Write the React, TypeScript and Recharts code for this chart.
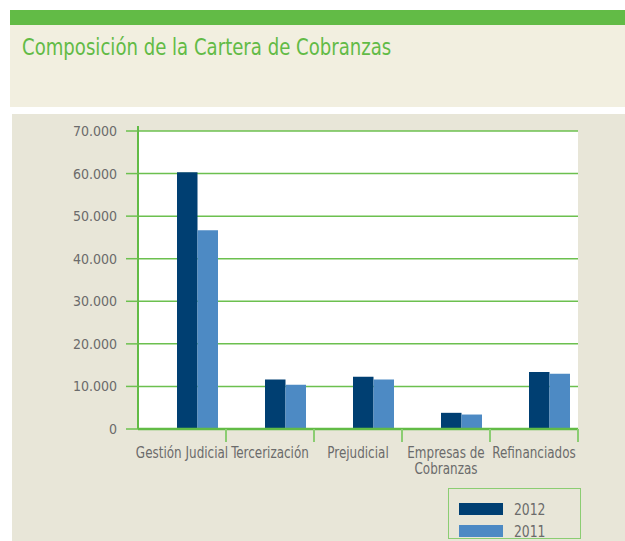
import React from 'react'
import {
  BarChart,
  Bar,
  XAxis,
  YAxis,
  CartesianGrid,
  Legend,
  ReferenceLine,
} from 'recharts'

const categories = ['Gestión Judicial', 'Tercerización', 'Prejudicial', 'Empresas de Cobranzas', 'Refinanciados']
const values2012 = [60300, 11600, 12300, 3800, 13400]
const values2011 = [46700, 10400, 11600, 3400, 13000]
const seriesNames = ['2012', '2011']
const yTicks = [0, 10000, 20000, 30000, 40000, 50000, 60000, 70000]

const data = categories.map((name, i) => ({
  name,
  y2012: values2012[i],
  y2011: values2011[i],
}))

const GREEN = '#62bb46'
const GRID = '#6cc04f'
const LIGHT_GREEN = '#8bcd72'
const DARK = '#003f72'
const LIGHT = '#4d8ac4'
const TEXT = '#6b6b6b'
const FONT = "'DejaVu Sans Condensed', 'Open Sans', sans-serif"

const PLOT_W = 440

const fmt = (v: number) => (v === 0 ? '0' : v.toLocaleString('de-DE'))

function CategoryTick(props: any) {
  const { x, y, payload } = props
  const label: string = payload.value
  const half = PLOT_W / categories.length / 2
  let lines = [label]
  if (label.length > 18) {
    const cut = label.lastIndexOf(' ')
    lines = [label.slice(0, cut), label.slice(cut + 1)]
  }
  return (
    <g>
      {/* tick mark on the band's right edge */}
      <line x1={x + half} x2={x + half} y1={y} y2={y + 13} stroke={LIGHT_GREEN} strokeWidth={2} />
      <g transform={`translate(${x},${y}) scale(0.86,1)`}>
        <text x={0} y={0} textAnchor="middle" fill={TEXT} fontSize={15.5} fontFamily={FONT}>
          {lines.map((l, i) => (
            <tspan key={i} x={0} dy={i === 0 ? 29 : 16}>
              {l}
            </tspan>
          ))}
        </text>
      </g>
    </g>
  )
}

function LegendBox(props: any) {
  const items = seriesNames
    .map((n) => (props.payload || []).find((p: any) => p.value === n))
    .filter(Boolean)
  return (
    <div
      style={{
        border: `1.5px solid ${LIGHT_GREEN}`,
        boxSizing: 'border-box',
        width: 133,
        height: 51,
        padding: '9px 0 0 10px',
      }}
    >
      {items.map((p: any) => (
        <div key={p.value} style={{ display: 'flex', alignItems: 'center', height: 22 }}>
          <span style={{ width: 44, height: 12, background: p.color, display: 'inline-block' }} />
          <span style={{ marginLeft: 11, color: TEXT, fontSize: 16, fontFamily: FONT, display: 'inline-block', transform: 'scaleX(0.86)', transformOrigin: 'left center' }}>
            {p.value}
          </span>
        </div>
      ))}
    </div>
  )
}

export default function App() {
  return (
    <div style={{ position: 'fixed', left: 0, top: 0, width: 625, height: 541, background: '#fff' }}>
      <div style={{ position: 'absolute', left: 10, top: 10, width: 615, height: 15, background: GREEN }} />
      <div style={{ position: 'absolute', left: 10, top: 25, width: 615, height: 82, background: '#f2efe0' }}>
        <div
          style={{
            position: 'absolute',
            left: 12,
            top: 9,
            color: GREEN,
            fontSize: 23,
            fontFamily: FONT,
            whiteSpace: 'nowrap',
            transform: 'scaleX(0.875)',
            transformOrigin: 'left top',
          }}
        >
          Composición de la Cartera de Cobranzas
        </div>
      </div>
      <div style={{ position: 'absolute', left: 12, top: 114, width: 613, height: 427, background: '#e8e6d8' }} />
      <div style={{ position: 'absolute', left: 0, top: 0 }}>
        <BarChart
          width={625}
          height={541}
          data={data}
          margin={{ top: 131, right: 47, bottom: 52, left: 78 }}
          barGap={0}
        >
          <CartesianGrid vertical={false} stroke={GRID} strokeWidth={1.5} fill="#ffffff" />
          <XAxis
            xAxisId="edges"
            type="number"
            domain={[0, 5]}
            tick={false}
            tickLine={false}
            axisLine={false}
            height={0}
          />
          <XAxis
            dataKey="name"
            interval={0}
            height={60}
            tickSize={0}
            tickMargin={0}
            tickLine={false}
            axisLine={{ stroke: GREEN, strokeWidth: 2.5 }}
            tick={<CategoryTick />}
          />
          <YAxis
            domain={[0, 70000]}
            ticks={yTicks}
            tickFormatter={fmt}
            width={60}
            axisLine={false}
            tickSize={12}
            tickMargin={9}
            tickLine={{ stroke: GRID, strokeWidth: 1.5 }}
            tick={{ fill: TEXT, fontSize: 14, fontFamily: FONT }}
          />
          <ReferenceLine
            xAxisId="edges"
            segment={[{ x: 0, y: 0 }, { x: 0, y: 71200 }]}
            stroke={GREEN}
            strokeWidth={2}
            ifOverflow="visible"
          />
          <ReferenceLine
            xAxisId="edges"
            segment={[{ x: 5, y: -400 }, { x: 5, y: 71400 }]}
            stroke={LIGHT_GREEN}
            strokeWidth={2.5}
            ifOverflow="visible"
          />
          <Bar dataKey="offset" barSize={30} fill="transparent" legendType="none" isAnimationActive={false} />
          <Bar dataKey="y2012" name="2012" barSize={20.5} fill={DARK} isAnimationActive={false} />
          <Bar dataKey="y2011" name="2011" barSize={20.5} fill={LIGHT} isAnimationActive={false} />
          <Legend
            layout="horizontal"
            verticalAlign="middle"
            align="center"
            content={<LegendBox />}
            wrapperStyle={{ left: 448, top: 488, width: 133, height: 51 }}
          />
        </BarChart>
      </div>
    </div>
  )
}
